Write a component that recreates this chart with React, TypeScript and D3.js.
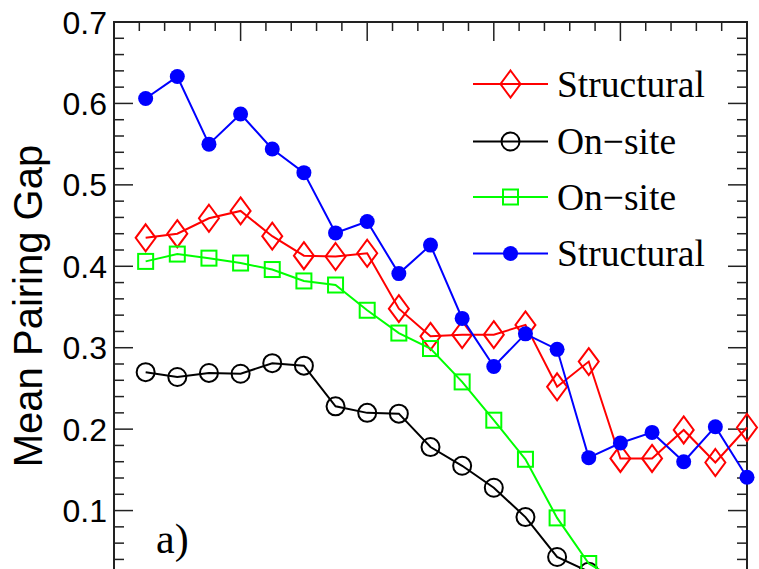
import React, { useEffect, useRef } from 'react';
import * as d3 from 'd3';

// x positions (step index) and the four series
const steps = [1, 2, 3, 4, 5, 6, 7, 8, 9, 10, 11, 12, 13, 14, 15, 16, 17, 18, 19, 20];
const structuralRed = [0.435, 0.44, 0.459, 0.468, 0.437, 0.413, 0.412, 0.416, 0.348, 0.314,
  0.316, 0.316, 0.328, 0.252, 0.283, 0.164, 0.164, 0.199, 0.159, 0.202];
const onsiteBlack = [0.27, 0.264, 0.269, 0.268, 0.281, 0.278, 0.228, 0.22, 0.219, 0.178,
  0.155, 0.128, 0.092, 0.043, 0.025];
const onsiteGreen = [0.406, 0.415, 0.41, 0.404, 0.396, 0.382, 0.377, 0.346, 0.318, 0.299,
  0.258, 0.211, 0.163, 0.091, 0.035, 0.012];
const structuralBlue = [0.606, 0.633, 0.55, 0.587, 0.544, 0.515, 0.441, 0.455, 0.391, 0.426,
  0.336, 0.277, 0.317, 0.298, 0.165, 0.183, 0.196, 0.16, 0.203, 0.141];

const yTickLabels = ['0.1', '0.2', '0.3', '0.4', '0.5', '0.6', '0.7'];
const legendLabels = ['Structural', 'On\u2212site', 'On\u2212site', 'Structural'];

const W = 759;
const H = 569;

export default function App() {
  const ref = useRef<SVGSVGElement>(null);

  useEffect(() => {
    document.body.style.margin = '0';
    const svg = d3.select(ref.current);
    svg.selectAll('*').remove();

    const x = d3.scaleLinear().domain([0, 20]).range([114, 747]);
    const y = d3.scaleLinear().domain([0, 0.7]).range([592, 22]);

    const axisColor = '#222';
    const frame = svg.append('g');

    // frame
    frame.append('rect')
      .attr('x', x(0)).attr('y', y(0.7))
      .attr('width', x(20) - x(0)).attr('height', y(0) - y(0.7))
      .attr('fill', 'none').attr('stroke', axisColor).attr('stroke-width', 2);

    // y ticks, left and right, pointing inward
    const yMinor = d3.range(0, 36).map(i => i * 0.02);
    yMinor.forEach(v => {
      const major = Math.abs(v * 10 - Math.round(v * 10)) < 1e-6;
      const len = major ? 19 : 10;
      frame.append('line')
        .attr('x1', x(0)).attr('x2', x(0) + len)
        .attr('y1', y(v)).attr('y2', y(v))
        .attr('stroke', axisColor).attr('stroke-width', 1.5);
      frame.append('line')
        .attr('x1', x(20)).attr('x2', x(20) - len)
        .attr('y1', y(v)).attr('y2', y(v))
        .attr('stroke', axisColor).attr('stroke-width', 1.5);
    });

    // top ticks
    d3.range(0, 26).map(i => i * 0.8).forEach(v => {
      const major = Math.abs(v / 4 - Math.round(v / 4)) < 1e-6;
      const len = major ? 19 : 9;
      frame.append('line')
        .attr('x1', x(v)).attr('x2', x(v))
        .attr('y1', y(0.7)).attr('y2', y(0.7) + len)
        .attr('stroke', axisColor).attr('stroke-width', 1.5);
    });

    // y tick labels
    yTickLabels.forEach(t => {
      frame.append('text')
        .attr('x', 107).attr('y', y(+t) + 11.5)
        .attr('text-anchor', 'end')
        .attr('font-family', '"Liberation Sans", Arial, sans-serif')
        .attr('font-size', 32)
        .attr('fill', '#000')
        .text(t);
    });

    // y title
    frame.append('text')
      .attr('transform', 'translate(42,306) rotate(-90)')
      .attr('text-anchor', 'middle')
      .attr('font-family', '"Liberation Sans", Arial, sans-serif')
      .attr('font-size', 40)
      .attr('fill', '#000')
      .text('Mean Pairing Gap');

    // panel label
    frame.append('text')
      .attr('x', 156).attr('y', 553)
      .attr('font-family', '"Liberation Serif", "Times New Roman", serif')
      .attr('font-size', 42)
      .attr('fill', '#000')
      .text('a)');

    const drawMarker = (g: any, kind: string, color: string) => {
      if (kind === 'diamond') {
        g.append('path').attr('d', 'M0,-13.5L10,0L0,13.5L-10,0Z')
          .attr('fill', 'none').attr('stroke', color).attr('stroke-width', 2);
      } else if (kind === 'circle') {
        g.append('circle').attr('r', 9)
          .attr('fill', 'none').attr('stroke', color).attr('stroke-width', 2);
      } else if (kind === 'square') {
        g.append('rect').attr('x', -7.5).attr('y', -7.5).attr('width', 15).attr('height', 15)
          .attr('fill', 'none').attr('stroke', color).attr('stroke-width', 2);
      } else {
        g.append('circle').attr('r', 7.5).attr('fill', color);
      }
    };

    const series = [
      { values: structuralRed, color: '#ff0000', kind: 'diamond' },
      { values: onsiteBlack, color: '#000000', kind: 'circle' },
      { values: onsiteGreen, color: '#00ff00', kind: 'square' },
      { values: structuralBlue, color: '#0000ff', kind: 'dot' },
    ];

    const line = d3.line<number>()
      .x((d, i) => x(steps[i]))
      .y(d => y(d));

    series.forEach(s => {
      const g = svg.append('g');
      g.append('path')
        .attr('d', line(s.values))
        .attr('fill', 'none')
        .attr('stroke', s.color)
        .attr('stroke-width', 2);
      s.values.forEach((v, i) => {
        const m = g.append('g').attr('transform', `translate(${x(steps[i])},${y(v)})`);
        drawMarker(m, s.kind, s.color);
      });
    });

    // legend
    const rows = [84, 141.5, 197, 253.5];
    series.forEach((s, i) => {
      const g = svg.append('g').attr('transform', `translate(0,${rows[i]})`);
      g.append('line').attr('x1', 473).attr('x2', 548).attr('y1', 0).attr('y2', 0)
        .attr('stroke', s.color).attr('stroke-width', 2);
      const m = g.append('g').attr('transform', 'translate(510.5,0)');
      drawMarker(m, s.kind, s.color);
      g.append('text')
        .attr('x', 557).attr('y', 12.5)
        .attr('font-family', '"Liberation Serif", "Times New Roman", serif')
        .attr('font-size', 37.5)
        .attr('fill', '#000')
        .text(legendLabels[i]);
    });
  }, []);

  return (
    <svg ref={ref} width={W} height={H} style={{ display: 'block', background: '#fff' }} />
  );
}
